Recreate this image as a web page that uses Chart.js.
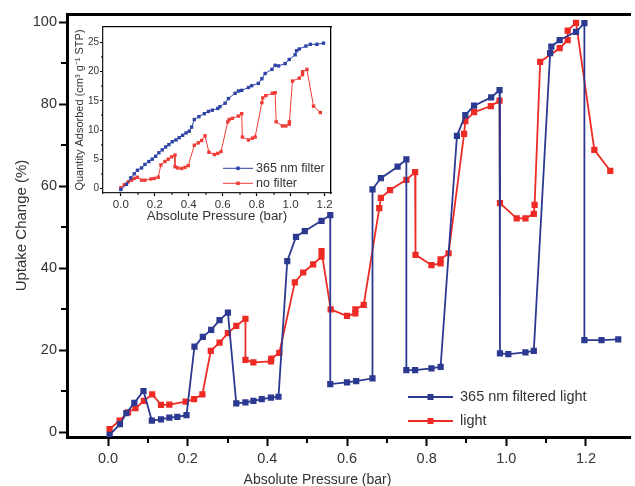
<!DOCTYPE html>
<html>
<head>
<meta charset="utf-8">
<script src="https://cdn.jsdelivr.net/npm/chart.js@4.4.1/dist/chart.umd.min.js"></script>
<style>
  html, body { margin: 0; padding: 0; background: #fff; }
  #wrap { position: relative; width: 635px; height: 486px; overflow: hidden; }
  #main { position: absolute; left: 0; top: 0; }
  #inset { position: absolute; left: 70px; top: 20px; }
</style>
</head>
<body>
<div id="wrap">
  <canvas id="main" width="635" height="486"></canvas>
  <canvas id="inset" width="270" height="210"></canvas>
</div>
<script>
// main plot: uptake change (%) vs absolute pressure (bar)
const filteredP = [0.004, 0.03, 0.046, 0.066, 0.089, 0.11, 0.133, 0.154, 0.174, 0.197,
  0.217, 0.238, 0.259, 0.28, 0.301, 0.322, 0.345, 0.365, 0.386, 0.409, 0.428,
  0.45, 0.472, 0.494, 0.536, 0.558, 0.558, 0.6, 0.623, 0.664,
  0.664, 0.685, 0.727, 0.749, 0.749, 0.771, 0.812, 0.835,
  0.876, 0.897, 0.919, 0.962, 0.983, 0.984, 1.005, 1.048, 1.069,
  1.11, 1.113, 1.134, 1.175, 1.196, 1.196, 1.239, 1.281];
const filteredUptake = [-0.6, 2.0, 4.7, 7.2, 10.1, 2.9, 3.2, 3.6, 3.8, 4.2,
  20.9, 23.3, 25.0, 27.4, 29.2, 7.1, 7.3, 7.7, 8.1, 8.5, 8.7,
  41.8, 47.7, 49.1, 51.6, 53.0, 11.8, 12.2, 12.5, 13.2,
  59.3, 62.0, 64.8, 66.6, 15.2, 15.2, 15.6, 16.0,
  72.3, 77.4, 79.7, 81.7, 83.5, 19.3, 19.1, 19.5, 19.9,
  92.5, 94.1, 95.7, 97.7, 99.8, 22.5, 22.5, 22.7];

const lightP = [0.004, 0.029, 0.05, 0.069, 0.09, 0.111, 0.133, 0.154, 0.195, 0.216, 0.237,
  0.258, 0.28, 0.301, 0.322, 0.345, 0.345, 0.365, 0.409, 0.41, 0.43,
  0.469, 0.49, 0.515, 0.536, 0.536, 0.559, 0.6, 0.621, 0.621, 0.642,
  0.681, 0.685, 0.708, 0.749, 0.771, 0.772, 0.812, 0.835, 0.835, 0.855,
  0.894, 0.897, 0.919, 0.961, 0.983, 0.984, 1.026, 1.048, 1.069, 1.071,
  1.085, 1.134, 1.154, 1.154, 1.175, 1.221, 1.261];
const lightUptake = [0.8, 2.9, 4.9, 5.9, 7.7, 9.3, 6.7, 6.8, 7.5, 8.1, 9.3,
  19.9, 21.9, 24.2, 26.0, 27.7, 17.7, 17.1, 17.3, 18.0, 19.4,
  36.6, 39.0, 41.0, 42.9, 44.2, 30.0, 28.4, 29.0, 30.0, 31.1,
  54.7, 57.2, 59.1, 61.6, 63.5, 43.3, 40.8, 41.2, 42.2, 43.7,
  72.8, 75.9, 78.1, 79.6, 80.9, 55.9, 52.2, 52.2, 53.3, 55.5,
  90.4, 93.7, 95.7, 98.0, 99.9, 68.9, 63.8];

// inset: quantity adsorbed vs absolute pressure
const insetFilterP = [0, 0.033, 0.059, 0.079, 0.098, 0.122, 0.142, 0.165, 0.185, 0.205,
  0.224, 0.244, 0.264, 0.283, 0.303, 0.325, 0.344, 0.364, 0.384, 0.403,
  0.417, 0.433, 0.46, 0.492, 0.516, 0.539, 0.571, 0.584, 0.614, 0.634,
  0.673, 0.693, 0.712, 0.752, 0.771, 0.81, 0.831, 0.85, 0.89, 0.909,
  0.929, 0.968, 0.992, 1.027, 1.035, 1.051, 1.09, 1.116, 1.155, 1.194];
const insetFilterQ = [-0.2, 0.7, 1.8, 2.5, 3.1, 3.5, 4.1, 4.6, 5.0, 5.5,
  6.1, 6.6, 7.1, 7.5, 8.0, 8.3, 8.7, 9.1, 9.5, 9.8,
  10.5, 11.8, 12.3, 12.8, 13.2, 13.4, 13.7, 14.0, 14.6, 15.4,
  16.3, 16.7, 16.8, 17.3, 17.6, 18.0, 18.8, 19.7, 20.4, 21.1,
  21.0, 21.4, 22.1, 22.9, 23.6, 23.9, 24.4, 24.7, 24.7, 24.9];

const insetNoFilterP = [0, 0.02, 0.043, 0.063, 0.079, 0.098, 0.122, 0.142, 0.177, 0.197, 0.22,
  0.236, 0.26, 0.279, 0.299, 0.319, 0.319, 0.335, 0.358, 0.378, 0.397,
  0.433, 0.456, 0.476, 0.496, 0.519, 0.551, 0.571, 0.59,
  0.63, 0.638, 0.657, 0.693, 0.712, 0.716, 0.752, 0.775, 0.791,
  0.831, 0.836, 0.854, 0.893, 0.909, 0.915, 0.952, 0.972, 0.992, 0.993,
  1.011, 1.051, 1.07, 1.071, 1.096, 1.135, 1.175];
const insetNoFilterQ = [0.1, 0.6, 1.1, 1.4, 1.7, 1.9, 1.4, 1.4, 1.6, 1.7, 1.9,
  4.0, 4.6, 5.0, 5.4, 5.7, 3.7, 3.5, 3.4, 3.6, 3.9,
  7.4, 7.8, 8.2, 9.0, 6.2, 5.8, 6.0, 6.3,
  11.4, 11.8, 12.0, 12.4, 12.8, 8.8, 8.3, 8.6, 8.8,
  14.7, 15.5, 15.9, 16.3, 16.4, 11.4, 10.7, 10.7, 11.0, 11.4,
  18.4, 18.9, 19.5, 20.0, 20.4, 14.1, 13.0];

// ticks
const mainMinorX = [0.1, 0.3, 0.5, 0.7, 0.9, 1.1];
const mainMinorY = [10, 30, 50, 70, 90];
const insetMinorX = [0.1, 0.3, 0.5, 0.7, 0.9, 1.1];
const insetMinorY = [2.5, 7.5, 12.5, 17.5, 22.5];

const BLUE = '#2b3990';
const RED = '#ee2a24';
const TEXT = '#333';
const FONT = 'Arial, "Liberation Sans", sans-serif';

const toXY = (xs, ys) => xs.map((x, i) => ({ x: x, y: ys[i] }));

// short outward ticks between the labelled ones
const minorTicks = {
  id: 'minorTicks',
  afterDraw(chart, args, o) {
    const { ctx, scales } = chart;
    ctx.save();
    ctx.strokeStyle = '#000';
    ctx.lineWidth = o.width;
    o.x.forEach(v => {
      const px = Math.round(scales.x.getPixelForValue(v));
      ctx.beginPath();
      ctx.moveTo(px, scales.x.top);
      ctx.lineTo(px, scales.x.top + o.len);
      ctx.stroke();
    });
    o.y.forEach(v => {
      const py = Math.round(scales.y.getPixelForValue(v));
      ctx.beginPath();
      ctx.moveTo(scales.y.right, py);
      ctx.lineTo(scales.y.right - o.len, py);
      ctx.stroke();
    });
    ctx.restore();
  }
};

// legend as line + square marker + label
const lineLegend = {
  id: 'lineLegend',
  afterDatasetsDraw(chart, args, o) {
    const ctx = chart.ctx;
    ctx.save();
    ctx.font = o.font;
    ctx.textBaseline = 'middle';
    chart.data.datasets.forEach((ds, i) => {
      const y = o.y + i * o.rowGap;
      ctx.strokeStyle = ds.borderColor;
      ctx.lineWidth = ds.borderWidth;
      ctx.beginPath();
      ctx.moveTo(o.x, y);
      ctx.lineTo(o.x + o.lineLen, y);
      ctx.stroke();
      ctx.fillStyle = ds.pointBackgroundColor;
      ctx.fillRect(o.x + o.lineLen / 2 - o.marker / 2, y - o.marker / 2, o.marker, o.marker);
      ctx.fillStyle = TEXT;
      ctx.fillText(ds.label, o.x + o.lineLen + o.textGap, y);
    });
    ctx.restore();
  }
};

const frameAxis = (pos, min, max, size, width) => ({
  type: 'linear', position: pos, display: true, min: min, max: max,
  ticks: { display: false },
  grid: { display: false },
  border: { display: true, width: width, color: '#000' },
  afterFit: s => { if (pos === 'top' || pos === 'bottom') s.height = size; else s.width = size; }
});

new Chart(document.getElementById('main'), {
  type: 'line',
  data: {
    datasets: [
      {
        label: '365 nm filtered light',
        data: toXY(filteredP, filteredUptake),
        borderColor: BLUE, backgroundColor: BLUE,
        pointBackgroundColor: BLUE, pointBorderColor: BLUE,
        borderWidth: 1.8, pointStyle: 'rect', pointRadius: 4.4, pointBorderWidth: 0,
        tension: 0
      },
      {
        label: 'light',
        data: toXY(lightP, lightUptake),
        borderColor: RED, backgroundColor: RED,
        pointBackgroundColor: RED, pointBorderColor: RED,
        borderWidth: 1.8, pointStyle: 'rect', pointRadius: 4.4, pointBorderWidth: 0,
        tension: 0
      }
    ]
  },
  options: {
    responsive: false,
    animation: false,
    layout: { padding: 0 },
    scales: {
      x: {
        type: 'linear', min: -0.103, max: 1.312,
        ticks: {
          stepSize: 0.2, includeBounds: false, color: TEXT, padding: 4,
          font: { family: FONT, size: 14.5 },
          callback: v => v.toFixed(1)
        },
        afterBuildTicks: s => { s.ticks = s.ticks.filter(t => t.value > -1e-6 && t.value < 1.2 + 1e-6); },
        grid: { display: true, drawOnChartArea: false, tickLength: 9, tickWidth: 2, tickColor: '#000' },
        border: { display: true, width: 3, color: '#000' },
        afterFit: s => { s.height = 32.2; }
      },
      xTop: frameAxis('top', -0.103, 1.312, 14, 3),
      y: {
        type: 'linear', min: -1.12, max: 102.05,
        ticks: {
          stepSize: 20, includeBounds: false, color: TEXT, padding: 2,
          font: { family: FONT, size: 14.5 }
        },
        afterBuildTicks: s => { s.ticks = s.ticks.filter(t => t.value > -1e-6 && t.value < 100 + 1e-6); },
        grid: { display: true, drawOnChartArea: false, tickLength: 8, tickWidth: 2, tickColor: '#000' },
        border: { display: true, width: 3, color: '#000' },
        title: {
          display: true, text: 'Uptake Change (%)', color: TEXT,
          font: { family: FONT, size: 15 }, padding: { top: 13, bottom: 0 }
        },
        afterFit: s => { s.width = 67; }
      }
    },
    plugins: {
      legend: { display: false },
      tooltip: { enabled: false },
      title: {
        display: true, position: 'bottom', text: 'Absolute Pressure (bar)', color: TEXT,
        font: { family: FONT, size: 14, weight: 'normal' }, padding: { top: 2.4, bottom: -2.4 }
      },
      minorTicks: { x: mainMinorX, y: mainMinorY, len: 6, width: 2 },
      lineLegend: { x: 408, y: 397, rowGap: 24, lineLen: 45, textGap: 7, marker: 6, font: '14.5px ' + FONT }
    }
  },
  plugins: [minorTicks, lineLegend]
});

const IBLUE = '#2d43a6';
const IRED = '#f03a36';

new Chart(document.getElementById('inset'), {
  type: 'line',
  data: {
    datasets: [
      {
        label: '365 nm filter',
        data: toXY(insetFilterP, insetFilterQ),
        borderColor: IBLUE, backgroundColor: IBLUE,
        pointBackgroundColor: IBLUE, pointBorderColor: IBLUE,
        borderWidth: 1, pointStyle: 'rect', pointRadius: 2.4, pointBorderWidth: 0,
        tension: 0
      },
      {
        label: 'no filter',
        data: toXY(insetNoFilterP, insetNoFilterQ),
        borderColor: IRED, backgroundColor: IRED,
        pointBackgroundColor: IRED, pointBorderColor: IRED,
        borderWidth: 1, pointStyle: 'rect', pointRadius: 2.4, pointBorderWidth: 0,
        tension: 0
      }
    ]
  },
  options: {
    responsive: false,
    animation: false,
    layout: { padding: 0 },
    scales: {
      x: {
        type: 'linear', min: -0.105, max: 1.238,
        ticks: {
          stepSize: 0.2, includeBounds: false, color: TEXT, padding: 2,
          font: { family: FONT, size: 11.5 },
          callback: v => v.toFixed(1)
        },
        afterBuildTicks: s => { s.ticks = s.ticks.filter(t => t.value > -1e-6 && t.value < 1.2 + 1e-6); },
        grid: { display: true, drawOnChartArea: false, tickLength: 3, tickWidth: 1.2, tickColor: '#000' },
        border: { display: true, width: 1.3, color: '#222' },
        title: {
          display: true, text: 'Absolute Pressure (bar)', color: TEXT,
          font: { family: FONT, size: 13.3 }, padding: { top: 0, bottom: 5.5 }
        },
        afterFit: s => { s.height = 37; }
      },
      xTop: frameAxis('top', -0.105, 1.238, 7, 1.3),
      y: {
        type: 'linear', min: -0.8, max: 27.67,
        ticks: {
          stepSize: 5, includeBounds: false, color: TEXT, padding: 1,
          font: { family: FONT, size: 10 }
        },
        afterBuildTicks: s => { s.ticks = s.ticks.filter(t => t.value > -1e-6 && t.value < 25 + 1e-6); },
        grid: { display: true, drawOnChartArea: false, tickLength: 3, tickWidth: 1.2, tickColor: '#000' },
        border: { display: true, width: 1.3, color: '#222' },
        title: {
          display: true, text: 'Quantity Adsorbed (cm³ g⁻¹ STP)', color: TEXT,
          font: { family: FONT, size: 11 }, padding: { top: 3.4, bottom: 0 }
        },
        afterFit: s => { s.width = 33; }
      },
      yRight: frameAxis('right', -0.8, 27.67, 9, 1.3)
    },
    plugins: {
      legend: { display: false },
      tooltip: { enabled: false },
      minorTicks: { x: insetMinorX, y: insetMinorY, len: 2, width: 1 },
      lineLegend: { x: 153, y: 148.3, rowGap: 15, lineLen: 30, textGap: 3, marker: 3.5, font: '12.5px ' + FONT }
    }
  },
  plugins: [minorTicks, lineLegend]
});
</script>
</body>
</html>
